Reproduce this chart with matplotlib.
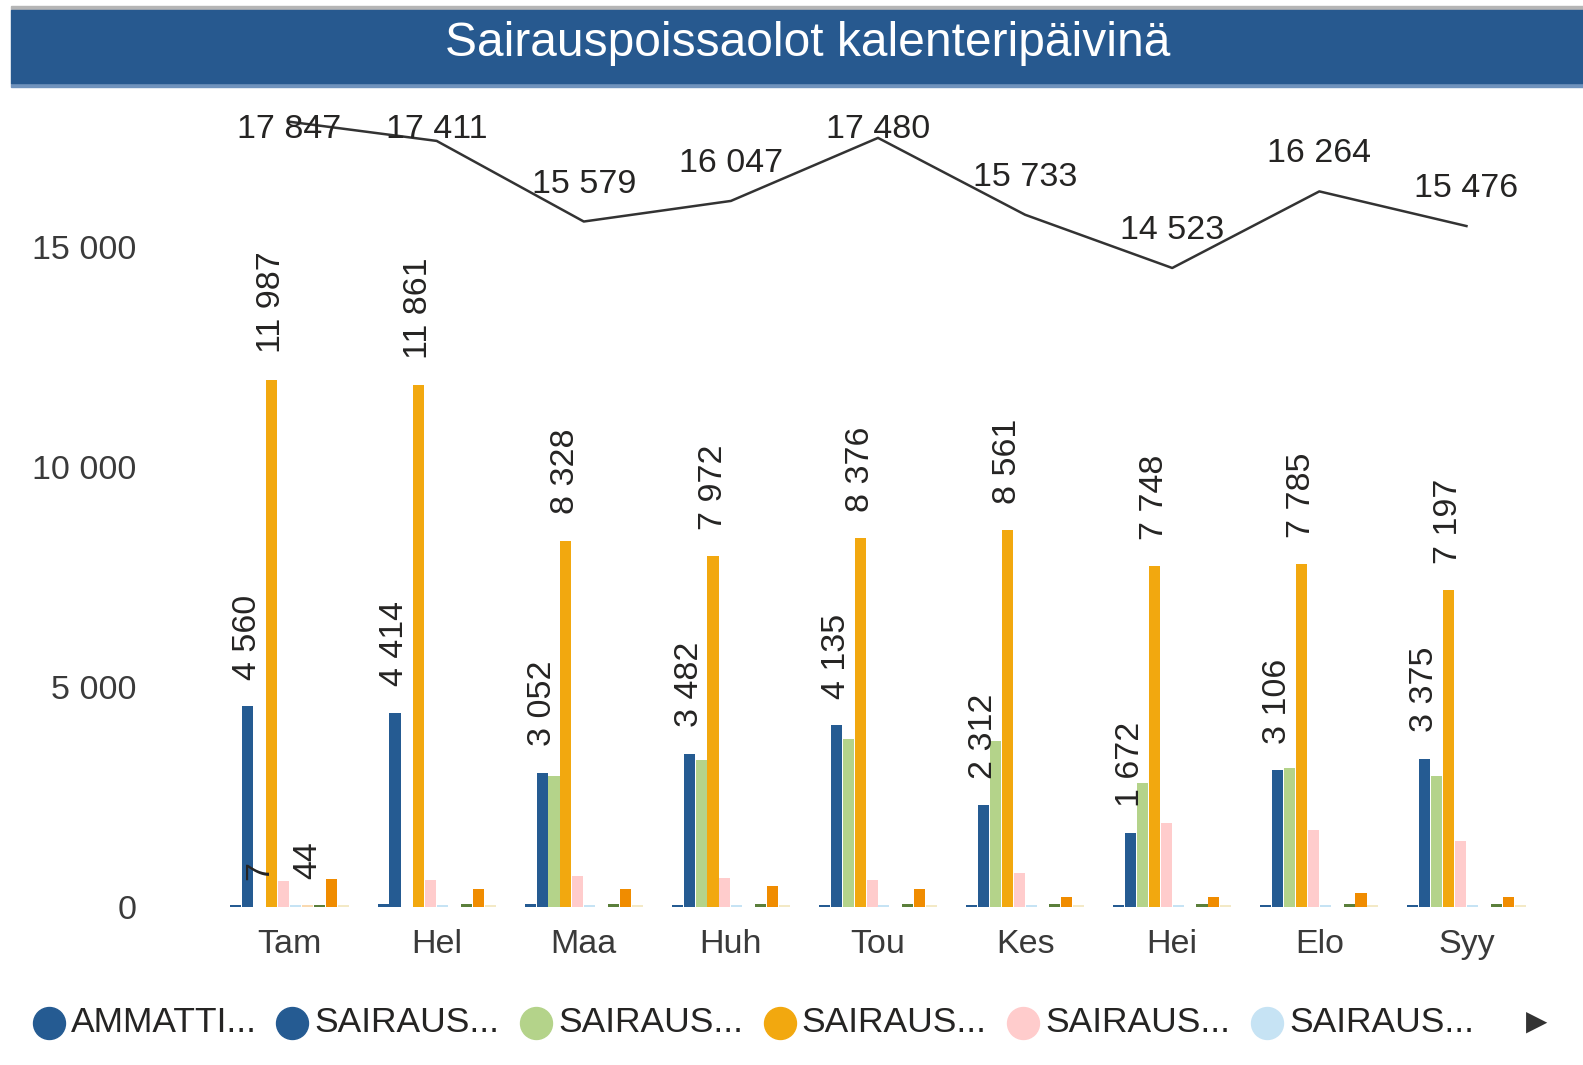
import matplotlib
matplotlib.use("Agg")
import matplotlib.pyplot as plt
from matplotlib.patches import Rectangle
from matplotlib.lines import Line2D
import numpy as np

plt.rcParams['font.family'] = ['Liberation Sans', 'DejaVu Sans']

months = ["Tam", "Hel", "Maa", "Huh", "Tou", "Kes", "Hei", "Elo", "Syy"]

# sairauspoissaolot per kuukausi, kalenteripäivinä
ammatti = [40, 60, 60, 50, 50, 50, 50, 50, 50]
sairaus_a = [4560, 4414, 3052, 3482, 4135, 2312, 1672, 3106, 3375]
sairaus_b = [7, 4, 2980, 3330, 3820, 3770, 2820, 3150, 2980]
sairaus_c = [11987, 11861, 8328, 7972, 8376, 8561, 7748, 7785, 7197]
sairaus_d = [580, 620, 700, 660, 620, 780, 1900, 1750, 1500]
sairaus_e = [40, 40, 40, 40, 40, 40, 40, 40, 40]
muu_a = [44, 0, 0, 0, 0, 0, 0, 0, 0]
muu_b = [50, 60, 60, 60, 60, 60, 60, 60, 60]
muu_c = [640, 400, 420, 470, 400, 230, 230, 310, 230]
muu_d = [40, 40, 40, 40, 40, 40, 40, 40, 40]
yhteensa = [17847, 17411, 15579, 16047, 17480, 15733, 14523, 16264, 15476]

legend_labels = ["AMMATTI...", "SAIRAUS...", "SAIRAUS...", "SAIRAUS...", "SAIRAUS...", "SAIRAUS..."]

series = [ammatti, sairaus_a, sairaus_b, sairaus_c, sairaus_d, sairaus_e, muu_a, muu_b, muu_c, muu_d]
colors = ['#255B92', '#255B92', '#B4D38A', '#F2A80F', '#FFCCCC', '#C6E3F4',
          '#F9D9B0', '#5B7F3B', '#F08C00', '#F3E9C6']
# which series get value labels (index -> months)
labelled = {1: range(9), 2: [0], 3: range(9), 6: [0]}

W, H = 1583, 1065
fig = plt.figure(figsize=(W / 100, H / 100), dpi=100)

def fx(px):
    return px / W

def fy(py):
    return 1 - py / H

# title bar
fig.patches.append(Rectangle((fx(11), fy(10)), 1, fy(6) - fy(10), transform=fig.transFigure,
                             color='#B5B5B5', zorder=0))
fig.patches.append(Rectangle((fx(11), fy(87)), 1, fy(83) - fy(87), transform=fig.transFigure,
                             color='#7093BD', zorder=0))
fig.patches.append(Rectangle((fx(11), fy(83)), 1, fy(10) - fy(83), transform=fig.transFigure,
                             color='#27598F', zorder=0))
fig.text(fx(808), fy(44), "Sairauspoissaolot kalenteripäivinä", color='white',
         fontsize=34.5, ha='center', va='center')

ax_left, ax_right, ax_bottom, ax_top = 216, 1540, 907, 100
ax = fig.add_axes([fx(ax_left), fy(ax_bottom), fx(ax_right - ax_left), fy(ax_top) - fy(ax_bottom)])

x = np.arange(len(months))
slot = 0.081
n = len(series)
for i, (vals, c) in enumerate(zip(series, colors)):
    off = -slot * n / 2 + slot * (i + 0.5)
    ax.bar(x + off, vals, width=slot * 0.93, color=c, zorder=2)
    if i in labelled:
        for j in labelled[i]:
            ax.annotate(f"{vals[j]:,}".replace(",", " "), (x[j] + off, vals[j]),
                        xytext=(0, 19), textcoords='offset points', rotation=90,
                        ha='center', va='bottom', fontsize=24.5, color='#252423', zorder=4)

ax.plot(x, yhteensa, color='#333333', lw=1.8, zorder=3)
for j, v in enumerate(yhteensa):
    ax.text(x[j], min(v + 850, 17680), f"{v:,}".replace(",", " "), ha='center', va='center',
            fontsize=24.5, color='#252423', zorder=4)

ax.set_xlim(-0.5, len(months) - 0.5)
ax.set_ylim(0, (ax_bottom - ax_top) / 0.044)
ax.set_xticks(x)
ax.set_xticklabels(months)
ax.set_yticks([0, 5000, 10000, 15000])
ax.set_yticklabels(["0", "5 000", "10 000", "15 000"])
ax.tick_params(axis='both', length=0, labelsize=24.5, colors='#3A3A3A')
ax.tick_params(axis='y', pad=57)
ax.tick_params(axis='x', pad=16)
for s in ax.spines.values():
    s.set_visible(False)

# legend row
for i, (lab, c) in enumerate(zip(legend_labels, colors[:6])):
    mx = 48.5 + 243.7 * i
    fig.add_artist(Line2D([fx(mx)], [fy(1023)], marker='o', markersize=23, color=c,
                          transform=fig.transFigure))
    fig.text(fx(mx + 22), fy(1023), lab, fontsize=25.5, color='#252423', va='center', ha='left')
fig.text(fx(1537), fy(1023), "▶", fontsize=20, color='#333333', ha='center', va='center')

fig.savefig("out.png", dpi=100)
